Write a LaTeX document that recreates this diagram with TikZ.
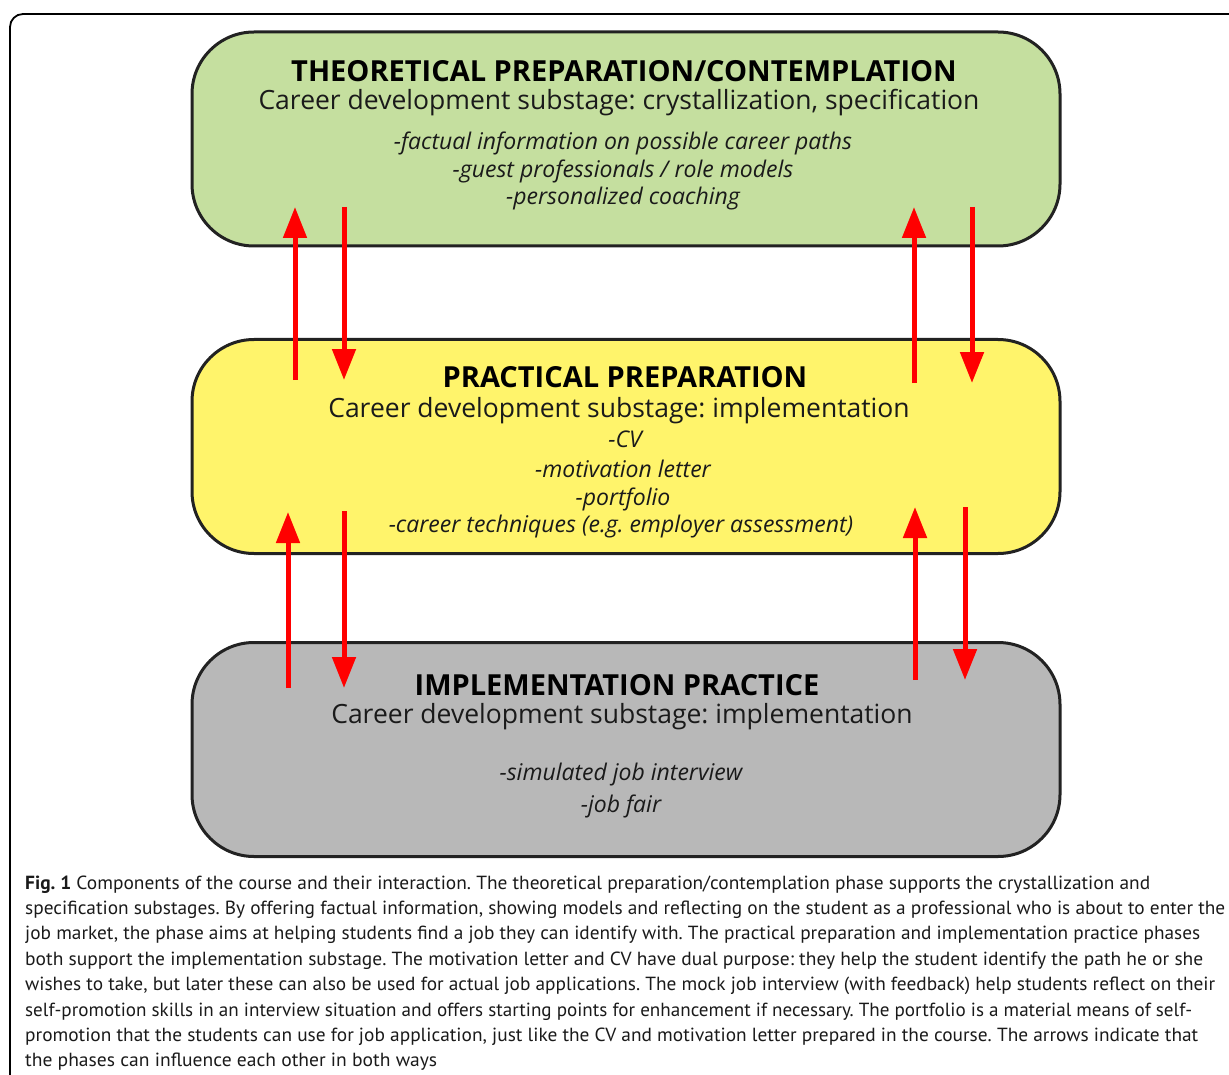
\documentclass[tikz,border=0pt]{standalone}
\usepackage{fontspec}
\setmainfont{Open Sans}
\newfontfamily\capfont{PT Sans}
\usetikzlibrary{arrows.meta}
\frenchspacing
\definecolor{boxgreen}{RGB}{197,223,159}
\definecolor{boxyellow}{RGB}{255,244,107}
\definecolor{boxgray}{RGB}{184,184,184}
\definecolor{edgedark}{RGB}{34,34,34}
\definecolor{txtdark}{RGB}{26,26,26}
\definecolor{arrred}{RGB}{255,0,0}
\newcommand{\capline}[2]{\resizebox{#1pt}{\height}{\capfont\fontsize{19}{22}\selectfont #2}}
\begin{document}
\begin{tikzpicture}[x=1pt,y=-1pt,
  phase/.style={draw=edgedark, line width=3pt, rounded corners=62pt, minimum width=868pt, minimum height=214pt, inner sep=0pt},
  ttl/.style={anchor=base, inner sep=0pt, font=\fontsize{29}{34}\selectfont\bfseries, text=black},
  sub/.style={anchor=base, inner sep=0pt, font=\fontsize{26.5}{31}\selectfont, text=txtdark},
  itm/.style={anchor=base, inner sep=0pt, font=\fontsize{23}{27}\selectfont\itshape, text=txtdark},
  captxt/.style={anchor=base west, inner sep=0pt, text=txtdark},
  flow/.style={draw=arrred, line width=5pt, -{Triangle[length=31pt,width=23pt]}}
]
\useasboundingbox (0,0) rectangle (1229,1075);
% outer frame
\draw[line width=1.8pt, black, rounded corners=13pt] (10,1090) -- (10,14) -- (1240,14);

% phase boxes
\node[phase, fill=boxgreen] (theo) at (626,139) {};
\node[phase, fill=boxyellow] (prac) at (626,446.5) {};
\node[phase, fill=boxgray] (impl) at (626,749.5) {};

% texts: theoretical
\node[ttl] (t1) at (624,82) {THEORETICAL PREPARATION/CONTEMPLATION};
\node[sub] (t2) at (619,110) {Career development substage: crystallization, specification};
\node[itm] (t3) at (623,150) {-factual information on possible career paths};
\node[itm] (t4) at (623,178) {-guest professionals / role models};
\node[itm] (t5) at (623,205) {-personalized coaching};

% texts: practical
\node[ttl] (p1) at (625,387) {PRACTICAL PREPARATION};
\node[sub] (p2) at (619,417) {Career development substage: implementation};
\node[itm] (p3) at (625,447) {-CV};
\node[itm] (p4) at (623,477) {-motivation letter};
\node[itm] (p5) at (623,505) {-portfolio};
\node[itm] (p6) at (621,532) {-career techniques (e.g. employer assessment)};

% texts: implementation
\node[ttl] (i1) at (617,695) {IMPLEMENTATION PRACTICE};
\node[sub] (i2) at (622,723) {Career development substage: implementation};
\node[itm] (i3) at (621,780) {-simulated job interview};
\node[itm] (i4) at (621,812) {-job fair};

% arrow end points
\coordinate (a1s) at (295,380); \coordinate (a1e) at (295,207);
\coordinate (a2s) at (344,207); \coordinate (a2e) at (344,380);
\coordinate (a3s) at (914,383); \coordinate (a3e) at (914,207);
\coordinate (a4s) at (972,207); \coordinate (a4e) at (972,383);
\coordinate (b1s) at (288,688); \coordinate (b1e) at (288,512);
\coordinate (b2s) at (344,511); \coordinate (b2e) at (344,688);
\coordinate (b3s) at (915,680); \coordinate (b3e) at (915,507);
\coordinate (b4s) at (965,507); \coordinate (b4e) at (965,680);
\draw[flow] (a1s) -- (a1e);
\draw[flow] (a2s) -- (a2e);
\draw[flow] (a3s) -- (a3e);
\draw[flow] (a4s) -- (a4e);
\draw[flow] (b1s) -- (b1e);
\draw[flow] (b2s) -- (b2e);
\draw[flow] (b3s) -- (b3e);
\draw[flow] (b4s) -- (b4e);

% caption
\node[captxt] (c1) at (25,889) {\capline{1125}{\textbf{Fig. 1} Components of the course and their interaction. The theoretical preparation/contemplation phase supports the crystallization and}};
\node[captxt] (c2) at (25,914.4) {\capline{1200}{specification substages. By offering factual information, showing models and reflecting on the student as a professional who is about to enter the}};
\node[captxt] (c3) at (25,939.8) {\capline{1175}{job market, the phase aims at helping students find a job they can identify with. The practical preparation and implementation practice phases}};
\node[captxt] (c4) at (25,965.2) {\capline{1178}{both support the implementation substage. The motivation letter and CV have dual purpose: they help the student identify the path he or she}};
\node[captxt] (c5) at (25,990.6) {\capline{1190}{wishes to take, but later these can also be used for actual job applications. The mock job interview (with feedback) help students reflect on their}};
\node[captxt] (c6) at (25,1016) {\capline{1167}{self-promotion skills in an interview situation and offers starting points for enhancement if necessary. The portfolio is a material means of self-}};
\node[captxt] (c7) at (25,1041.4) {\capline{1173}{promotion that the students can use for job application, just like the CV and motivation letter prepared in the course. The arrows indicate that}};
\node[captxt] (c8) at (25,1066.8) {\capline{412}{the phases can influence each other in both ways}};
\end{tikzpicture}
\end{document}
